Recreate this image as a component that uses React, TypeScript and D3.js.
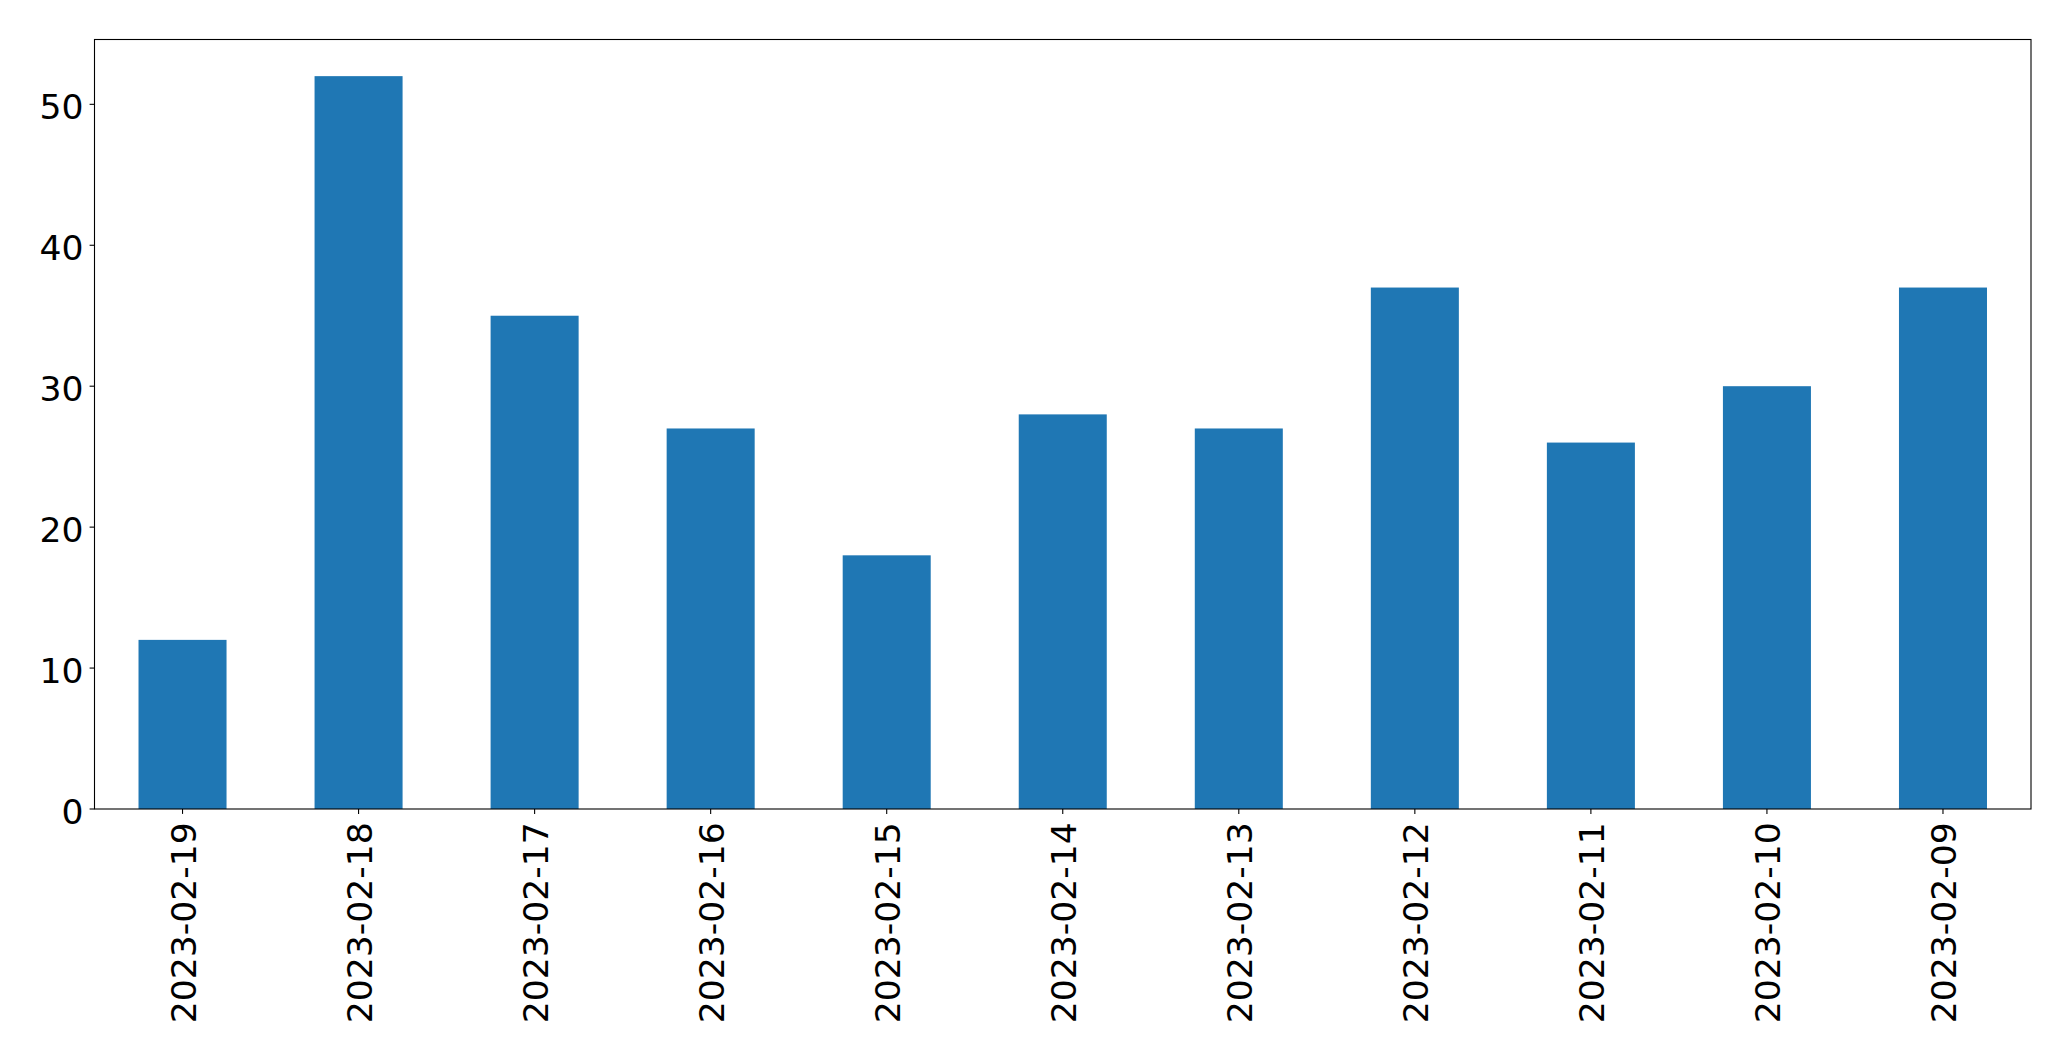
import * as d3 from 'd3';

const dates = [
  '2023-02-19', '2023-02-18', '2023-02-17', '2023-02-16', '2023-02-15', '2023-02-14',
  '2023-02-13', '2023-02-12', '2023-02-11', '2023-02-10', '2023-02-09',
];
const counts = [12, 52, 35, 27, 18, 28, 27, 37, 26, 30, 37];
const yTicks = [0, 10, 20, 30, 40, 50];

const W = 2071;
const H = 1061;
const margin = { top: 39.5, right: 40, bottom: 252, left: 94.5 };
const fontSize = 34.6;
const font = '"DejaVu Sans", sans-serif';

export default function App() {
  const innerW = W - margin.left - margin.right;
  const innerH = H - margin.top - margin.bottom;

  const x = d3.scaleBand<string>()
    .domain(dates)
    .range([0, innerW])
    .paddingInner(0.5)
    .paddingOuter(0.25);

  const yMax = (d3.max(counts) || 0) * 1.05;
  const y = d3.scaleLinear().domain([0, yMax]).range([innerH, 0]);

  const tickLen = 4.9;
  const pad = 7.6;

  return (
    <svg width={W} height={H} style={{ position: 'absolute', left: 0, top: 0, background: '#fff' }}>
      <g transform={`translate(${margin.left},${margin.top})`}>
        {/* bars */}
        {dates.map((d, i) => (
          <rect
            key={d}
            x={x(d)}
            y={y(counts[i])}
            width={x.bandwidth()}
            height={innerH - y(counts[i])}
            fill="#1f77b4"
          />
        ))}

        {/* y axis ticks */}
        {yTicks.map(t => (
          <g key={t} transform={`translate(0,${y(t)})`}>
            <line x1={-tickLen} x2={0} stroke="#000" strokeWidth={1.1} />
            <text
              x={-tickLen - pad + 1.5}
              y={15}
              textAnchor="end"
              fontFamily={font}
              fontSize={fontSize}
              fill="#000"
            >
              {t}
            </text>
          </g>
        ))}

        {/* x axis ticks */}
        {dates.map(d => {
          const cx = (x(d) || 0) + x.bandwidth() / 2;
          return (
            <g key={d} transform={`translate(${cx},${innerH})`}>
              <line y1={0} y2={tickLen} stroke="#000" strokeWidth={1.1} />
              <text
                transform={`translate(13,${tickLen + pad + 0.8}) rotate(-90)`}
                textAnchor="end"
                fontFamily={font}
                fontSize={fontSize}
                fill="#000"
              >
                {d}
              </text>
            </g>
          );
        })}

        {/* frame */}
        <rect x={0} y={0} width={innerW} height={innerH} fill="none" stroke="#000" strokeWidth={1.1} />
      </g>
    </svg>
  );
}
